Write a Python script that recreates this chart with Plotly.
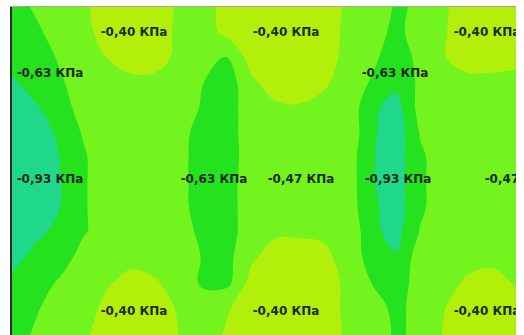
import plotly.graph_objects as go

# Grid coordinates of the pressure field (horizontal / vertical position)
grid_x = [12, 36, 60, 84, 108, 132, 156, 180, 204, 228, 252, 276, 300, 324, 348, 372, 396, 420, 444, 468, 492, 516]
grid_y = [7, 32, 57, 82, 107, 132, 157, 182, 207, 232, 257, 282, 307, 335]

# Pressure values, kPa (rows follow grid_y, columns follow grid_x)
p_row0 = [-0.61, -0.53, -0.49, -0.45, -0.37, -0.37, -0.37, -0.45, -0.49, -0.37, -0.37, -0.37, -0.37, -0.37, -0.45, -0.49, -0.56, -0.54, -0.445, -0.37, -0.37, -0.37]
p_row1 = [-0.61, -0.575, -0.49, -0.47, -0.37, -0.37, -0.37, -0.46, -0.49, -0.39, -0.37, -0.37, -0.37, -0.37, -0.46, -0.50, -0.58, -0.50, -0.44, -0.37, -0.37, -0.37]
p_row2 = [-0.61, -0.61, -0.535, -0.49, -0.425, -0.37, -0.37, -0.47, -0.53, -0.555, -0.37, -0.37, -0.37, -0.37, -0.47, -0.525, -0.61, -0.52, -0.44, -0.35, -0.35, -0.37]
p_row3 = [-0.69, -0.61, -0.565, -0.49, -0.49, -0.46, -0.47, -0.49, -0.55, -0.61, -0.45, -0.37, -0.37, -0.41, -0.49, -0.56, -0.63, -0.53, -0.49, -0.48, -0.48, -0.49]
p_row4 = [-0.79, -0.68, -0.61, -0.49, -0.49, -0.49, -0.49, -0.49, -0.565, -0.61, -0.47, -0.45, -0.44, -0.47, -0.47, -0.64, -0.725, -0.505, -0.49, -0.49, -0.49, -0.49]
p_row5 = [-0.93, -0.82, -0.61, -0.54, -0.49, -0.49, -0.49, -0.49, -0.63, -0.61, -0.47, -0.49, -0.49, -0.49, -0.46, -0.65, -0.747, -0.541, -0.49, -0.49, -0.49, -0.49]
p_row6 = [-0.93, -0.85, -0.665, -0.56, -0.49, -0.49, -0.49, -0.49, -0.66, -0.62, -0.47, -0.49, -0.49, -0.49, -0.485, -0.66, -0.73, -0.57, -0.49, -0.49, -0.49, -0.49]
p_row7 = [-0.93, -0.86, -0.675, -0.56, -0.49, -0.49, -0.49, -0.49, -0.66, -0.59, -0.49, -0.49, -0.49, -0.49, -0.485, -0.66, -0.73, -0.57, -0.49, -0.49, -0.49, -0.49]
p_row8 = [-0.93, -0.85, -0.672, -0.56, -0.49, -0.49, -0.49, -0.49, -0.65, -0.59, -0.49, -0.49, -0.49, -0.49, -0.485, -0.645, -0.73, -0.57, -0.49, -0.49, -0.49, -0.49]
p_row9 = [-0.85, -0.72, -0.61, -0.56, -0.49, -0.49, -0.49, -0.49, -0.59, -0.59, -0.49, -0.45, -0.45, -0.47, -0.45, -0.64, -0.712, -0.543, -0.49, -0.49, -0.49, -0.49]
p_row10 = [-0.74, -0.61, -0.61, -0.50, -0.49, -0.49, -0.49, -0.49, -0.56, -0.58, -0.45, -0.37, -0.37, -0.38, -0.52, -0.57, -0.66, -0.49, -0.49, -0.48, -0.48, -0.49]
p_row11 = [-0.63, -0.61, -0.535, -0.49, -0.45, -0.37, -0.42, -0.49, -0.57, -0.58, -0.38, -0.37, -0.37, -0.37, -0.46, -0.555, -0.61, -0.50, -0.49, -0.41, -0.37, -0.45]
p_row12 = [-0.61, -0.565, -0.49, -0.53, -0.37, -0.37, -0.37, -0.45, -0.50, -0.44, -0.37, -0.37, -0.37, -0.37, -0.46, -0.50, -0.58, -0.51, -0.435, -0.37, -0.37, -0.37]
p_row13 = [-0.61, -0.53, -0.49, -0.45, -0.37, -0.37, -0.37, -0.435, -0.49, -0.41, -0.37, -0.37, -0.37, -0.37, -0.45, -0.49, -0.565, -0.53, -0.42, -0.37, -0.37, -0.37]
pressure = [p_row0, p_row1, p_row2, p_row3, p_row4, p_row5, p_row6,
            p_row7, p_row8, p_row9, p_row10, p_row11, p_row12, p_row13]

# Level boundaries (kPa)
level_start = -0.67
level_end = -0.43
level_step = 0.12

# Contour labels
label_text = ["-0,40 КПа", "-0,40 КПа", "-0,40 КПа",
              "-0,63 КПа", "-0,63 КПа",
              "-0,93 КПа", "-0,63 КПа", "-0,47 КПа", "-0,93 КПа", "-0,47 КПа",
              "-0,40 КПа", "-0,40 КПа", "-0,40 КПа"]
label_x = [134, 286, 487,
           50, 395,
           50, 214, 301, 398, 518,
           134, 286, 487]
label_y = [33, 33, 33,
           74, 74,
           180, 180, 180, 180, 180,
           312, 312, 312]

teal = "#20d88a"
dark_green = "#25e21e"
light_green = "#74f41e"
yellow_green = "#b2f00c"

fig = go.Figure()
fig.add_trace(go.Contour(
    x=grid_x, y=grid_y, z=pressure,
    contours=dict(start=level_start, end=level_end, size=level_step,
                  coloring="fill", showlines=False),
    line=dict(width=0, smoothing=1.2),
    colorscale=[[0, teal], [1/3, dark_green], [2/3, light_green], [1, yellow_green]],
    showscale=False, hoverinfo="skip",
))
fig.add_trace(go.Scatter(
    x=label_x, y=label_y, text=label_text, mode="text",
    textposition="middle center",
    textfont=dict(family="DejaVu Sans", size=12, color="#1e2a1e", weight="bold"),
    cliponaxis=True, hoverinfo="skip", showlegend=False,
))

fig.update_layout(
    width=524, height=335,
    margin=dict(l=12, r=8, t=7, b=0),
    paper_bgcolor="white", plot_bgcolor=light_green,
    showlegend=False,
    xaxis=dict(range=[12, 516], showgrid=False, zeroline=False, showticklabels=False,
               ticks="", side="top", showline=True, linecolor="#a4a890", linewidth=1),
    yaxis=dict(range=[335, 7], showgrid=False, zeroline=False, showticklabels=False,
               ticks="", showline=True, linecolor="#2a2a2a", linewidth=1.5),
)

fig.write_html("out.html")
